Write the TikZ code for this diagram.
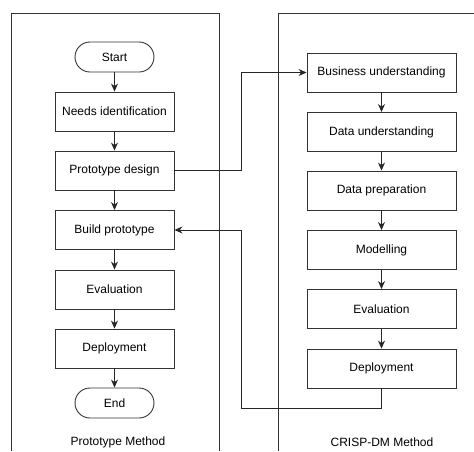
\documentclass[tikz,border=0pt]{standalone}
\usepackage{fontspec}
\setmainfont{Liberation Sans}
\usetikzlibrary{arrows.meta}

\begin{document}
\begin{tikzpicture}
[x=1pt,y=-1pt,
font=\fontsize{12}{14}\selectfont,
line width=0.9pt,draw=black!85,
%%%%%%%%%%%%%%%%%%%%%%%%%%%%%%
box/.style={rectangle,draw=black!80,line width=0.9pt,minimum width=119pt,minimum height=39pt,inner sep=0pt},
wbox/.style={box,minimum width=149pt},
term/.style={box,rounded corners=15pt,minimum width=79pt,minimum height=30pt},
arrow/.style={draw=black!85,-{Stealth[length=8pt,width=7pt]}},
]%%%%%%%%%%%%%%%%%%%%%%%%%%%%%%
\useasboundingbox (0,0) rectangle (474,451);
% panels
\draw[black!80] (11,451) -- (11,13) -- (219,13) -- (219,451);
\draw[black!80] (278,451) -- (278,13) -- (474,13);
% prototype method
\node[term] (st) at (114.5,57){Start};
\node[box] (ni) at (114.5,111.5){Needs identification};
\node[box] (pd) at (114.5,170.5){Prototype design};
\node[box] (bp) at (114.5,230){Build prototype};
\node[box] (ev) at (114.5,289.5){Evaluation};
\node[box] (de) at (114.5,348.5){Deployment};
\node[term] (en) at (114.5,403){End};
\node (pm) at (118,442){Prototype Method};
% crisp-dm method
\node[wbox] (bu) at (381.5,72.5){Business understanding};
\node[wbox] (du) at (381.5,132){Data understanding};
\node[wbox] (dp) at (381.5,190.5){Data preparation};
\node[wbox] (mo) at (381.5,250){Modelling};
\node[wbox] (cev) at (381.5,309){Evaluation};
\node[wbox] (cde) at (381.5,368.5){Deployment};
\node (cm) at (382,442){CRISP-DM Method};
\foreach \a/\b in {st/ni,ni/pd,pd/bp,bp/ev,ev/de,de/en,bu/du,du/dp,dp/mo,mo/cev,cev/cde}
\draw[arrow] (\a) -- (\b);
% links between methods
\coordinate (j1) at (241,170.5);
\coordinate (j2) at (241,408);
\draw[arrow] (pd.east) -- (j1) |- (bu.west);
\draw[arrow] (cde.south) |- (j2) |- (bp.east);
\end{tikzpicture}
\end{document}
